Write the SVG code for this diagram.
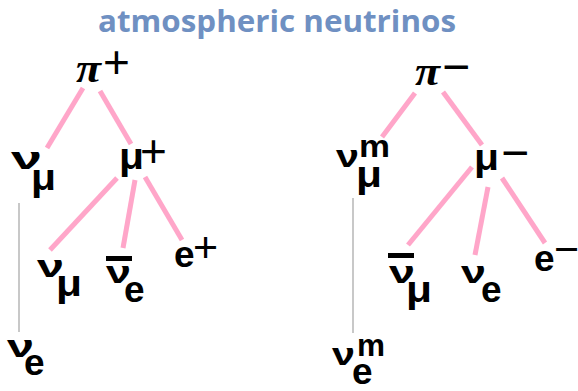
<svg xmlns="http://www.w3.org/2000/svg" width="578" height="391" viewBox="0 0 578 391">
<style>
.t{font-family:"Open Sans","Liberation Sans",sans-serif;font-weight:bold;font-size:31px;fill:#6f90c2}
.pi{font-family:"Liberation Serif",serif;font-weight:bold;font-style:italic;font-size:42px;fill:#000}
.g{font-family:"Liberation Sans",Arial,sans-serif;font-weight:bold;fill:#000}
.nu{font-size:32px}
.mu{font-size:36px}
.e{font-size:37px}
.m{font-size:32px}
.sg{font-family:"Liberation Sans",Arial,sans-serif;font-weight:normal;fill:#000}
.pk{stroke:#ffa6c9;stroke-width:5;fill:none}
.gr{stroke:#c8c8c8;stroke-width:2;fill:none}
</style>
<rect width="578" height="391" fill="#fff"/>
<text class="t" x="98" y="32" textLength="358" lengthAdjust="spacingAndGlyphs">atmospheric neutrinos</text>

<g id="connectors">
  <line class="pk" x1="83" y1="88" x2="47" y2="148"/>
  <line class="pk" x1="100" y1="91" x2="131" y2="144"/>
  <line class="pk" x1="117" y1="178" x2="50" y2="250"/>
  <line class="pk" x1="135" y1="180" x2="123" y2="248"/>
  <line class="pk" x1="145" y1="177" x2="182" y2="240"/>
  <line class="gr" x1="19" y1="203" x2="19" y2="332"/>
  <line class="pk" x1="415" y1="93" x2="382" y2="137"/>
  <line class="pk" x1="443" y1="92" x2="482" y2="145"/>
  <line class="pk" x1="472" y1="167" x2="408" y2="245"/>
  <line class="pk" x1="488" y1="187" x2="475" y2="255"/>
  <line class="pk" x1="502" y1="178" x2="545" y2="243"/>
  <line class="gr" x1="353" y1="198" x2="353" y2="333"/>
</g>

<g id="pi-plus">
  <text class="pi" x="76" y="82" textLength="25" lengthAdjust="spacingAndGlyphs">π</text>
  <text class="sg" x="103" y="78" font-size="46">+</text>
</g>
<g id="nu-mu-1">
  <text class="g nu" x="11" y="169" textLength="31" lengthAdjust="spacingAndGlyphs">ν</text>
  <text class="g mu" x="31" y="190" textLength="25" lengthAdjust="spacingAndGlyphs">μ</text>
</g>
<g id="mu-plus">
  <text class="g mu" x="119" y="169" textLength="25" lengthAdjust="spacingAndGlyphs">μ</text>
  <text class="sg" x="140" y="167" font-size="46">+</text>
</g>
<g id="nu-mu-2">
  <text class="g nu" x="37" y="277" textLength="27" lengthAdjust="spacingAndGlyphs">ν</text>
  <text class="g mu" x="56" y="296" textLength="26" lengthAdjust="spacingAndGlyphs">μ</text>
</g>
<g id="nubar-e">
  <rect x="106" y="256" width="26" height="5" fill="#000"/>
  <text class="g nu" x="106" y="283" textLength="25" lengthAdjust="spacingAndGlyphs">ν</text>
  <text class="g e" x="124" y="302">e</text>
</g>
<g id="e-plus">
  <text class="g e" x="174" y="267">e</text>
  <text class="sg" x="193" y="262" font-size="43">+</text>
</g>
<g id="nu-e-1">
  <text class="g nu" x="7" y="357" textLength="27" lengthAdjust="spacingAndGlyphs">ν</text>
  <text class="g e" x="24" y="375">e</text>
</g>

<g id="pi-minus">
  <text class="pi" x="415" y="85" textLength="25" lengthAdjust="spacingAndGlyphs">π</text>
  <text class="sg" x="442" y="83" font-size="48">−</text>
</g>
<g id="nu-mu-m">
  <text class="g nu" x="336" y="167" textLength="23" lengthAdjust="spacingAndGlyphs">ν</text>
  <text class="g m" x="359" y="157" textLength="31" lengthAdjust="spacingAndGlyphs">m</text>
  <text class="g mu" x="356" y="187" textLength="26" lengthAdjust="spacingAndGlyphs">μ</text>
</g>
<g id="mu-minus">
  <text class="g mu" x="474" y="170" textLength="25" lengthAdjust="spacingAndGlyphs">μ</text>
  <text class="sg" x="501" y="169" font-size="48">−</text>
</g>
<g id="nubar-mu">
  <rect x="388" y="253" width="26" height="5" fill="#000"/>
  <text class="g nu" x="389" y="283" textLength="26" lengthAdjust="spacingAndGlyphs">ν</text>
  <text class="g mu" x="406" y="302" textLength="26" lengthAdjust="spacingAndGlyphs">μ</text>
</g>
<g id="nu-e-2">
  <text class="g nu" x="461" y="283" textLength="25" lengthAdjust="spacingAndGlyphs">ν</text>
  <text class="g e" x="481" y="302">e</text>
</g>
<g id="e-minus">
  <text class="g e" x="534" y="271">e</text>
  <text class="sg" x="554" y="264" font-size="43">−</text>
</g>
<g id="nu-e-m">
  <text class="g nu" x="332" y="365" textLength="23" lengthAdjust="spacingAndGlyphs">ν</text>
  <text class="g m" x="357" y="356" textLength="28" lengthAdjust="spacingAndGlyphs">m</text>
  <text class="g e" x="352" y="384">e</text>
</g>
</svg>
